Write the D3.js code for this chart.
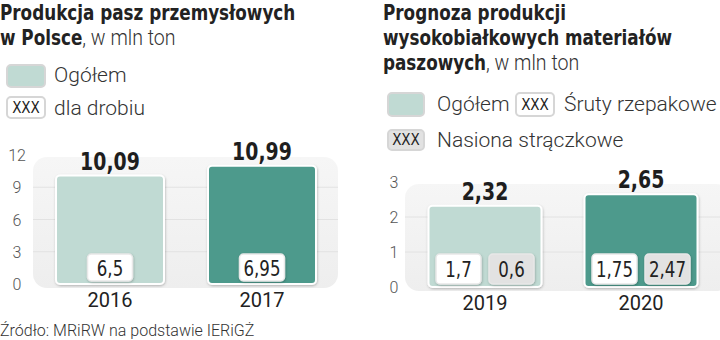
<!DOCTYPE html>
<html>
<head>
<meta charset="utf-8">
<script src="https://cdn.jsdelivr.net/npm/d3@7"></script>
<style>
  body { margin: 0; background: #fff; }
  svg { display: block; }
  .title { font-family: "Liberation Sans Narrow", "DejaVu Sans Condensed", sans-serif; font-weight: bold; font-size: 21px; fill: #222; }
  .light { font-family: Roboto, sans-serif; font-weight: 300; font-size: 21px; fill: #333; }
  .tick { font-family: Roboto, sans-serif; font-weight: 300; font-size: 16px; fill: #555; }
  .year { font-family: Roboto, sans-serif; font-size: 20px; fill: #222; }
  .big { font-family: "Liberation Sans Narrow", "DejaVu Sans Condensed", sans-serif; font-weight: bold; font-size: 25px; fill: #1e1e1e; }
  .small { font-family: "Liberation Sans Narrow", "DejaVu Sans Condensed", sans-serif; font-size: 21px; fill: #222; }
  .xxx { font-family: "Liberation Sans Narrow", "DejaVu Sans Condensed", sans-serif; font-size: 15px; fill: #222; }
</style>
</head>
<body>
<svg id="chart" width="720" height="340"></svg>
<script>
// Production of industrial feed in Poland, mln t
var leftYears = ["2016", "2017"];
var leftTotal = [10.09, 10.99];
var leftPoultry = [6.5, 6.95];
var leftTicks = [0, 3, 6, 9, 12];

// Forecast of high-protein feed materials, mln t
var rightYears = ["2019", "2020"];
var rightTotal = [2.32, 2.65];
var rightRapeseed = [1.7, 1.75];
var rightLegumes = [0.6, 2.47];
var rightTicks = [0, 1, 2, 3];

var lightGreen = "#c0dad3";
var darkGreen = "#4e9a8c";
var barColors = [lightGreen, darkGreen];

var fmt = function (v) { return String(v).replace(".", ","); };

var svg = d3.select("#chart");

// Shadow used by bars and label boxes
var defs = svg.append("defs");
var sh = defs.append("filter").attr("id", "shadow")
    .attr("x", "-10%").attr("y", "-10%").attr("width", "130%").attr("height", "130%");
sh.append("feDropShadow").attr("dx", 0.5).attr("dy", 1).attr("stdDeviation", 1)
    .attr("flood-color", "#000").attr("flood-opacity", 0.25);
var grad = defs.append("linearGradient").attr("id", "panel")
    .attr("x1", 0).attr("y1", 0).attr("x2", 0).attr("y2", 1);
grad.append("stop").attr("offset", "0%").attr("stop-color", "#f6f6f6");
grad.append("stop").attr("offset", "100%").attr("stop-color", "#eeeeee");

// ---------- titles and legends ----------
// titles are set in a condensed bold, squeezed a bit horizontally
function titleLines(x, lines, lastLight, y0) {
    lines.forEach(function (t, i) {
        var txt = svg.append("text")
            .attr("transform", "translate(" + x + "," + (y0 + i * 25) + ") scale(0.89,1)");
        txt.append("tspan").attr("class", "title").text(t);
        if (i == lines.length - 1) {
            txt.append("tspan").attr("class", "light").style("font-size", "22px").text(lastLight);
        }
    });
}
titleLines(0, ["Produkcja pasz przemysłowych", "w Polsce"], ", w mln ton", 20);
titleLines(383, ["Prognoza produkcji", "wysokobiałkowych materiałów", "paszowych"], ", w mln ton", 20);

function legendSwatch(x, y, w, h, fill) {
    svg.append("rect").attr("x", x).attr("y", y).attr("width", w).attr("height", h)
        .attr("rx", 4).attr("fill", fill).attr("stroke", "#d6d6d6").attr("stroke-width", 2);
}
function legendXxx(x, y, w, h, fill) {
    legendSwatch(x, y, w, h, fill);
    svg.append("text").attr("class", "xxx").attr("x", x + w / 2).attr("y", y + h / 2 + 5)
        .attr("text-anchor", "middle").text("XXX");
}
function legendText(x, y, t) {
    svg.append("text").attr("class", "light").attr("x", x).attr("y", y + 7).text(t);
}

legendSwatch(7, 65, 38, 22, lightGreen);
legendText(54, 75, "Ogółem");
legendXxx(7, 97, 38, 21, "#fff");
legendText(54, 108, "dla drobiu");

legendSwatch(388, 93, 36, 23, lightGreen);
legendText(437, 104, "Ogółem");
legendXxx(516, 93, 38, 23, "#fff");
legendText(564, 104, "Śruty rzepakowe");
legendXxx(388, 130, 36, 20, "#e2e2e2");
legendText(437, 140, "Nasiona strączkowe");

// ---------- chart drawing ----------
function drawChart(opt) {
    var y = d3.scaleLinear().domain(opt.domain).range([opt.base, opt.top]);
    var x = d3.scalePoint().domain(opt.years).range(opt.centers);
    var g = svg.append("g");

    g.append("rect").attr("x", opt.panel[0]).attr("y", y(opt.domain[1]) + 2)
        .attr("width", opt.panel[1] - opt.panel[0]).attr("height", opt.base - y(opt.domain[1]) + 2)
        .attr("rx", 14).attr("fill", "url(#panel)");

    g.selectAll(".grid").data(opt.ticks.slice(1, -1)).join("line")
        .attr("x1", opt.panel[0]).attr("x2", opt.panel[1])
        .attr("y1", d => y(d)).attr("y2", d => y(d))
        .attr("stroke", "#e2e2e2").attr("stroke-width", 1);

    g.selectAll(".tick").data(opt.ticks).join("text")
        .attr("class", "tick").attr("x", opt.tickX).attr("y", d => y(d) + 6)
        .attr("text-anchor", "middle").text(d => d);

    var bw = opt.barWidth;
    g.selectAll(".bar").data(opt.total).join("rect")
        .attr("x", (d, i) => x(opt.years[i]) - bw / 2)
        .attr("y", d => y(d))
        .attr("width", bw).attr("height", d => opt.base - y(d))
        .attr("rx", 4).attr("fill", (d, i) => barColors[i])
        .attr("stroke", "#fff").attr("stroke-width", 2)
        .attr("filter", "url(#shadow)");

    g.selectAll(".big").data(opt.total).join("text")
        .attr("class", "big")
        .attr("transform", (d, i) => "translate(" + x(opt.years[i]) + "," + (y(d) - 6) + ") scale(0.84,1)")
        .attr("text-anchor", "middle").text(d => fmt(d));

    g.selectAll(".year").data(opt.years).join("text")
        .attr("class", "year").attr("x", d => x(d)).attr("y", opt.base + 23)
        .attr("text-anchor", "middle").text(d => d);

    // value boxes at the foot of each bar
    var n = opt.sub.length, bwid = opt.boxW, gap = 8;
    opt.sub.forEach(function (s, k) {
        opt.years.forEach(function (yr, i) {
            var cx = x(yr) - (n * bwid + (n - 1) * gap) / 2 + k * (bwid + gap);
            var by = opt.base - 3 - opt.boxH;
            g.append("rect").attr("x", cx).attr("y", by).attr("width", bwid).attr("height", opt.boxH)
                .attr("rx", 4).attr("fill", s.fill).attr("stroke", "#e8e8e8").attr("stroke-width", 1.5)
                .attr("filter", "url(#shadow)");
            g.append("text").attr("class", "small")
                .attr("transform", "translate(" + (cx + bwid / 2) + "," + (by + opt.boxH / 2 + 8) + ") scale(0.88,1)")
                .attr("text-anchor", "middle").text(fmt(s.values[i]));
        });
    });
}

drawChart({
    years: leftYears, total: leftTotal, ticks: leftTicks, domain: [0, 12],
    base: 284, top: 155, centers: [110, 262], barWidth: 108,
    panel: [33, 338], tickX: 17, boxW: 45, boxH: 27,
    sub: [{ values: leftPoultry, fill: "#fff" }]
});

drawChart({
    years: rightYears, total: rightTotal, ticks: rightTicks, domain: [0, 3],
    base: 287, top: 182, centers: [485, 641], barWidth: 113,
    panel: [405, 730], tickX: 394, boxW: 45, boxH: 30,
    sub: [{ values: rightRapeseed, fill: "#fff" }, { values: rightLegumes, fill: "#e2e2e2" }]
});

svg.append("text").attr("class", "light").attr("x", 0).attr("y", 336)
    .style("font-size", "16px").text("Źródło: MRiRW na podstawie IERiGŻ");
</script>
</body>
</html>
